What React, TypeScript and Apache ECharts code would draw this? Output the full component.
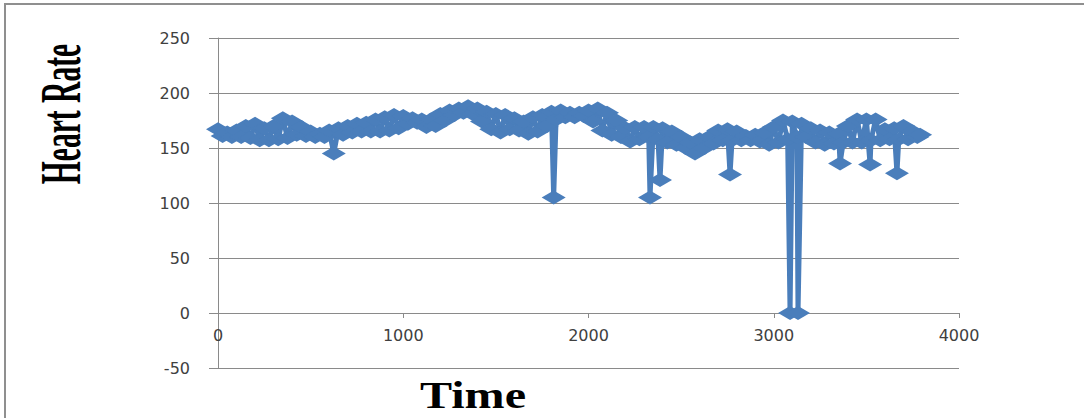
import React, { useEffect, useRef } from "react";
import * as echarts from "echarts";

const timeValues: number[] = [
  0, 25, 50, 75, 100, 125, 150, 175, 200, 225, 250, 275, 300, 325, 350, 375, 400, 425, 450, 475,
  500, 525, 550, 575, 600, 625, 650, 675, 700, 725, 750, 775, 800, 825, 850, 875, 900, 925, 950, 975,
  1000, 1025, 1050, 1075, 1100, 1125, 1150, 1175, 1200, 1225, 1250, 1275, 1300, 1325, 1350, 1375,
  1400, 1425, 1450, 1475, 1500, 1525, 1550, 1575, 1600, 1625, 1650, 1675, 1700, 1725, 1750, 1775,
  1800, 1812, 1825, 1850, 1875, 1900, 1925, 1950, 1975, 2000, 2025, 2050, 2075, 2100, 2125, 2150,
  2175, 2200, 2225, 2250, 2275, 2300, 2325, 2332, 2350, 2375, 2386, 2400, 2425, 2450, 2475, 2500,
  2525, 2550, 2575, 2600, 2625, 2650, 2675, 2700, 2725, 2750, 2764, 2775, 2800, 2825, 2850, 2875,
  2900, 2925, 2950, 2975, 3000, 3025, 3050, 3075, 3088, 3100, 3125, 3131, 3150, 3175, 3200, 3225,
  3250, 3275, 3300, 3325, 3350, 3358, 3375, 3400, 3425, 3450, 3475, 3500, 3520, 3525, 3550, 3575,
  3600, 3625, 3650, 3665, 3675, 3700, 3725, 3750, 3775, 3790,
];

const heartRate: number[] = [
  167, 161, 164, 160, 166, 160, 170, 159, 172, 157, 168, 157, 170, 158, 177, 159, 174, 162, 169, 161,
  165, 160, 163, 160, 166, 145, 168, 162, 170, 164, 172, 165, 173, 165, 176, 165, 178, 166, 180, 168,
  179, 172, 177, 173, 176, 169, 176, 170, 181, 175, 184, 180, 186, 182, 188, 181,
  186, 174, 183, 167, 181, 164, 180, 167, 177, 166, 174, 163, 178, 165, 180, 170,
  183, 105, 176, 184, 178, 182, 178, 182, 179, 184, 174, 186, 166, 182, 162, 175,
  160, 168, 156, 169, 158, 169, 160, 105, 169, 158, 121, 168, 155, 165, 153, 160,
  150, 155, 145, 158, 150, 160, 154, 166, 157, 167, 126, 157, 165, 157, 161, 157,
  162, 156, 164, 153, 169, 155, 175, 158, 0, 174, 160, 0, 172, 160, 168, 155,
  166, 153, 164, 154, 163, 136, 155, 170, 155, 176, 155, 176, 135, 157, 176, 157,
  167, 158, 168, 127, 158, 170, 158, 165, 160, 162,
];

const yTicks = { min: -50, max: 250, interval: 50 };
const xTicks = { min: 0, max: 4000, interval: 1000 };

export default function App() {
  const ref = useRef<HTMLDivElement>(null);
  useEffect(() => {
    document.body.style.margin = "0";
    if (!ref.current) return;
    const chart = echarts.init(ref.current, null, { renderer: "svg" });
    const data = timeValues.map((t, i) => [t, heartRate[i]]);
    const blue = "#4a7ebb";
    const gray = "#8a8a8a";
    chart.setOption({
      animation: false,
      backgroundColor: "#ffffff",
      grid: { left: 218, right: 125, top: 38, bottom: 50, containLabel: false },
      xAxis: {
        type: "value",
        min: xTicks.min,
        max: xTicks.max,
        interval: xTicks.interval,
        position: "bottom",
        offset: -55,
        axisLine: { show: true, onZero: false, lineStyle: { color: gray, width: 1 } },
        axisTick: { show: true, length: 5, lineStyle: { color: gray } },
        axisLabel: {
          margin: 14,
          fontSize: 16,
          fontFamily: "DejaVu Sans",
          color: "#404040",
          formatter: (v: number) => String(v),
        },
        splitLine: { show: false },
      },
      yAxis: {
        type: "value",
        min: yTicks.min,
        max: yTicks.max,
        interval: yTicks.interval,
        axisLine: { show: true, lineStyle: { color: gray, width: 1 } },
        axisTick: { show: true, length: 9, lineStyle: { color: gray } },
        axisLabel: {
          margin: 28,
          fontSize: 16,
          fontFamily: "DejaVu Sans",
          color: "#404040",
          formatter: (v: number) => String(v),
        },
        splitLine: { show: true, lineStyle: { color: gray, width: 1 } },
      },
      series: [
        {
          type: "line",
          data,
          symbol: "diamond",
          symbolSize: [24, 14],
          showAllSymbol: true,
          itemStyle: { color: blue, borderWidth: 0 },
          lineStyle: { color: blue, width: 5 },
          z: 3,
        },
      ],
      graphic: [
        {
          type: "rect",
          shape: { x: 5, y: 4, width: 1200, height: 500 },
          style: { fill: "none", stroke: "#8f8f8f", lineWidth: 2 },
          silent: true,
        },
        {
          type: "text",
          x: 60,
          y: 114,
          rotation: Math.PI / 2,
          scaleX: 0.51,
          style: {
            text: "Heart Rate",
            font: 'bold 58px "Liberation Serif"',
            fill: "#000000",
            textAlign: "center",
            textVerticalAlign: "middle",
          },
        },
        {
          type: "text",
          x: 473,
          y: 395,
          scaleX: 1.3,
          style: {
            text: "Time",
            font: 'bold 37px "Liberation Serif"',
            fill: "#000000",
            textAlign: "center",
            textVerticalAlign: "middle",
          },
        },
      ],
    });
    return () => chart.dispose();
  }, []);
  return <div ref={ref} style={{ width: 1084, height: 418 }} />;
}
